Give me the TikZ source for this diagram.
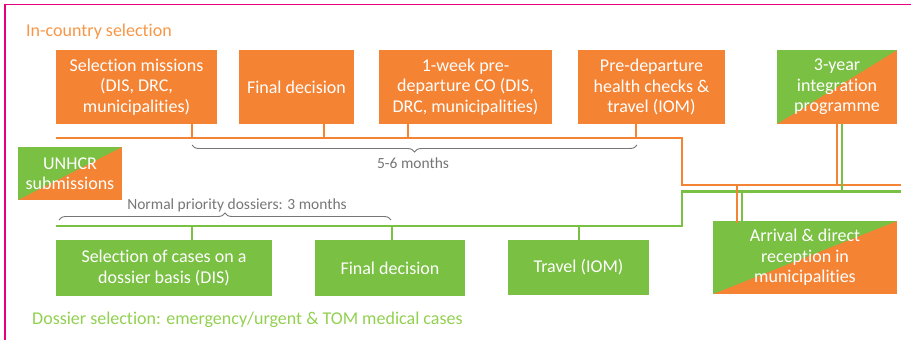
\documentclass[tikz,border=0pt]{standalone}
\usepackage{fontspec}
\setmainfont{Carlito}[Ligatures=NoCommon]
\usetikzlibrary{decorations.pathreplacing}
\tikzset{
    % Style for the filled stage boxes
    stage box/.style={
        rectangle,
        inner sep=0pt,
        text=white,
        align=center,
        font=\fontsize{18}{20.5}\selectfont
    },
    orange box/.style={stage box, fill=stageOrange},
    green box/.style={stage box, fill=stageGreen},
    % Boxes shared by both tracks
    split box/.style={
        stage box,
        fill=stageOrange,
        path picture={\fill[stageGreen] (path picture bounding box.south west)
            -- (path picture bounding box.north west)
            -- (path picture bounding box.north east) -- cycle;}
    },
    % Time lines of the two tracks
    orange track/.style={draw=stageOrange, line width=2.4pt},
    green track/.style={draw=stageGreen, line width=2.4pt},
    % Braces for durations
    span brace/.style={
        draw=spanGray,
        line width=0.9pt,
        decorate,
        decoration={brace, amplitude=7pt}
    },
    span label/.style={
        text=spanGray,
        font=\fontsize{15.5}{18}\selectfont
    },
    track label/.style={
        font=\fontsize{18}{20}\selectfont,
        anchor=base west,
        inner sep=0pt
    }
}
\definecolor{stageOrange}{RGB}{244,131,52}
\definecolor{stageGreen}{RGB}{122,192,67}
\definecolor{titleOrange}{RGB}{247,150,70}
\definecolor{titleGreen}{RGB}{146,208,80}
\definecolor{spanGray}{RGB}{118,118,118}
\definecolor{frameMagenta}{RGB}{230,0,126}

\begin{document}
\begin{tikzpicture}[x=1pt,y=-1pt]

% Set the canvas size
\path[use as bounding box] (0,0) rectangle (911,340);

% Frame
\draw[frameMagenta, line width=1.5pt] (5,340) -- (5,4.5) -- (911,4.5);

% Track titles
\node[track label, text=titleOrange] (incountry) at (26,36) {In-country selection};
\node[track label, text=titleGreen] (dossier) at (32,324) {Dossier selection: emergency/urgent \& TOM medical cases};

% Time lines
\draw[orange track] (56,138) -- (682,138) -- (682,185) -- (901,185);
\draw[green track] (56,226) -- (682,226) -- (682,191.5) -- (901,191.5);

% Junctions on the time lines
\coordinate (o-sel) at (192,138);
\coordinate (o-dec) at (324,138);
\coordinate (o-pre) at (408,138);
\coordinate (o-hea) at (636,138);
\coordinate (o-int) at (837,185);
\coordinate (o-arr) at (737,185);
\coordinate (g-int) at (842,191.5);
\coordinate (g-arr) at (742,191.5);
\coordinate (g-sel) at (192,226);
\coordinate (g-dec) at (392,226);
\coordinate (g-tra) at (579,226);

% In-country stages
\node[orange box, minimum width=161pt, minimum height=74pt] (selmissions) at (136.5,87)
    {Selection missions\\(DIS, DRC,\\municipalities)};
\node[orange box, minimum width=115pt, minimum height=74pt] (indecision) at (296.5,87)
    {Final decision};
\node[orange box, minimum width=173pt, minimum height=74pt] (predeparture) at (465.5,87)
    {1-week pre-\\departure CO (DIS,\\DRC, municipalities)};
\node[orange box, minimum width=147pt, minimum height=74pt] (healthtravel) at (651.5,87)
    {Pre-departure\\health checks \&\\travel (IOM)};

% Shared stages
\node[split box, minimum width=120pt, minimum height=74pt] (integration) at (837,87)
    {3-year\\integration\\programme};
\node[split box, minimum width=104pt, minimum height=53pt] (unhcr) at (70,173.5)
    {UNHCR\\submissions};
\node[split box, minimum width=184pt, minimum height=73pt] (arrival) at (805,257.5)
    {Arrival \& direct\\reception in\\municipalities};

% Dossier stages
\node[green box, minimum width=216pt, minimum height=56pt] (dossiercases) at (164,268)
    {Selection of cases on a\\dossier basis (DIS)};
\node[green box, minimum width=150pt, minimum height=56pt] (dosdecision) at (390,268)
    {Final decision};
\node[green box, minimum width=141pt, minimum height=55pt] (dostravel) at (578.5,267.5)
    {Travel (IOM)};

% Stems to the orange time line
\draw[orange track] (selmissions.south -| o-sel) -- (o-sel);
\draw[orange track] (indecision.south -| o-dec) -- (o-dec);
\draw[orange track] (predeparture.south -| o-pre) -- (o-pre);
\draw[orange track] (healthtravel.south -| o-hea) -- (o-hea);
\draw[orange track] (integration.south -| o-int) -- (o-int);

% Stems to the green time line
\draw[green track] (dossiercases.north -| g-sel) -- (g-sel);
\draw[green track] (dosdecision.north -| g-dec) -- (g-dec);
\draw[green track] (dostravel.north -| g-tra) -- (g-tra);
\draw[green track] (integration.south -| g-int) -- (g-int);
\draw[green track] (g-arr) -- (arrival.north -| g-arr);
\draw[orange track] (o-arr) -- ([yshift=-2pt]arrival.north -| o-arr);

% Durations
\draw[span brace] (637,145) -- (192,145);
\node[span label] (months) at (413,163) {5-6 months};
\draw[span brace] (59,220) -- (391,220);
\node[span label] (normal) at (237,205) {Normal priority dossiers: 3 months};

\end{tikzpicture}
\end{document}
